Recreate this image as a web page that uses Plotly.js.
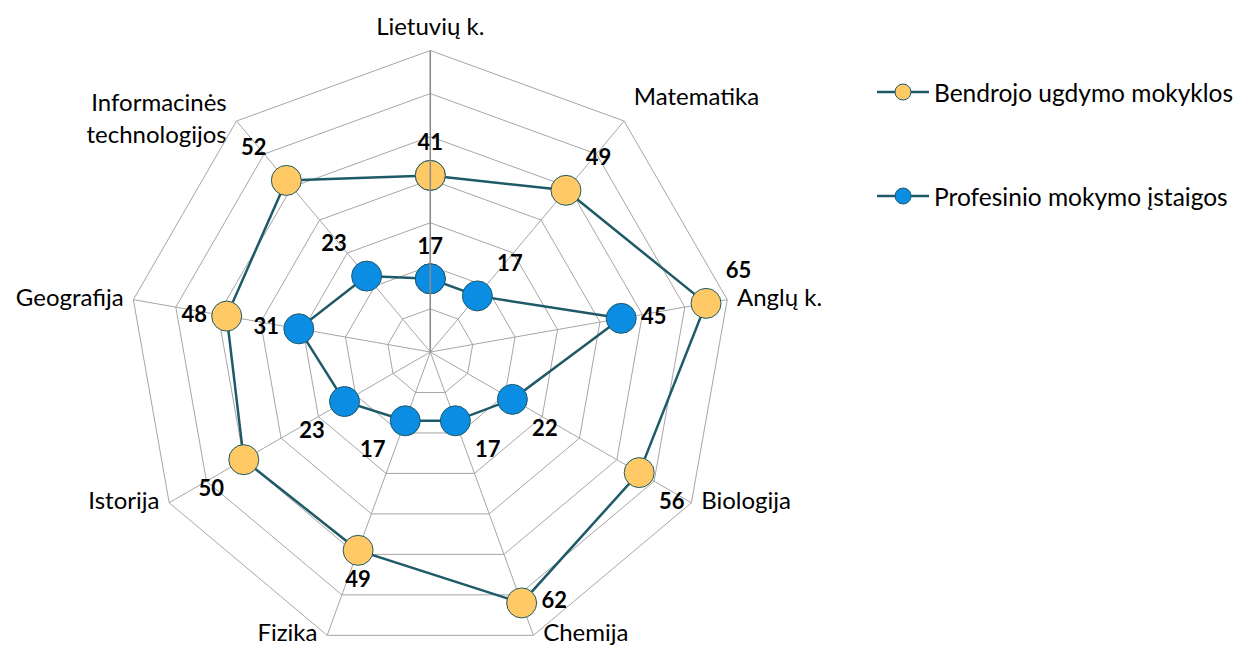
<!DOCTYPE html>
<html>
<head>
<meta charset="utf-8">
<script src="https://cdn.plot.ly/plotly-3.0.1.min.js"></script>
<style>html,body{margin:0;padding:0;background:#fff;}#chart{width:1239px;height:658px;}</style>
</head>
<body>
<div id="chart"></div>
<script>
const categories = ["Lietuvių k.", "Matematika", "Anglų k.", "Biologija", "Chemija", "Fizika", "Istorija", "Geografija", "Informacinės<br>technologijos"];
const seriesNames = ["Bendrojo ugdymo mokyklos", "Profesinio mokymo įstaigos"];
const bendrojo = [41, 49, 65, 56, 62, 49, 50, 48, 52];
const profesinio = [17, 17, 45, 22, 17, 17, 23, 31, 23];
const radialRange = [0, 70];

const bendrojoPos = ["top center", "top right", "top right", "bottom right", "middle right", "bottom center", "bottom left", "middle left", "top left"];
const profesinioPos = ["top center", "top right", "middle right", "bottom right", "bottom right", "bottom left", "bottom left", "middle left", "top left"];
const categoryPos = ["top center", "top right", "middle right", "middle right", "middle right", "middle left", "middle left", "middle left", "middle left"];

const FONT = "Lato, 'Open Sans', sans-serif";
const LINE = "#1F5A68";

function closed(arr, fill) { return arr.concat([fill === undefined ? arr[0] : fill]); }

function makeTrace(name, vals, pos, color, legend) {
  return {
    type: "scatterpolar",
    mode: "lines+markers+text",
    name: name,
    r: closed(vals),
    theta: closed(categories),
    text: closed(vals.map(String), ""),
    textposition: closed(pos),
    textfont: {family: FONT, size: 22, color: "#000", weight: "bold"},
    line: {color: LINE, width: 2.5},
    marker: {size: 30, color: color, line: {color: LINE, width: 1}},
    cliponaxis: false,
    legend: legend,
    hoverinfo: "skip"
  };
}

const data = [
  makeTrace(seriesNames[0], bendrojo, bendrojoPos, "#FFC966", "legend"),
  makeTrace(seriesNames[1], profesinio, profesinioPos, "#0A8DE2", "legend2"),
  {
    type: "scatterpolar",
    mode: "markers+text",
    r: categories.map(() => radialRange[1]),
    theta: categories,
    text: categories,
    textposition: categoryPos,
    textfont: {family: FONT, size: 24, color: "#000"},
    marker: {size: 14, color: "rgba(0,0,0,0)"},
    cliponaxis: false,
    showlegend: false,
    hoverinfo: "skip"
  }
];

const layout = {
  width: 1239, height: 658,
  margin: {l: 0, r: 0, t: 0, b: 0},
  paper_bgcolor: "#fff",
  font: {family: FONT, size: 24, color: "#000"},
  showlegend: true,
  legend: {x: 0.705, xanchor: "left", y: 0.86, yanchor: "middle", font: {family: FONT, size: 24.5}, itemwidth: 52, bgcolor: "rgba(0,0,0,0)"},
  legend2: {x: 0.705, xanchor: "left", y: 0.702, yanchor: "middle", font: {family: FONT, size: 24.5}, itemwidth: 52, bgcolor: "rgba(0,0,0,0)"},
  polar: {
    domain: {x: [129/1239, 733/1239], y: [4/658, 608/658]},
    bgcolor: "#fff",
    gridshape: "linear",
    radialaxis: {range: radialRange, dtick: 10, showticklabels: false, ticks: "", showline: true, linecolor: "#8c8c8c", linewidth: 1.5, gridcolor: "#a6a6a6", gridwidth: 1, angle: 90},
    angularaxis: {direction: "clockwise", rotation: 90, showline: true, linecolor: "#a6a6a6", linewidth: 1, gridcolor: "#a6a6a6", ticks: "", showticklabels: false}
  }
};

Plotly.newPlot("chart", data, layout, {displayModeBar: false});
</script>
</body>
</html>
